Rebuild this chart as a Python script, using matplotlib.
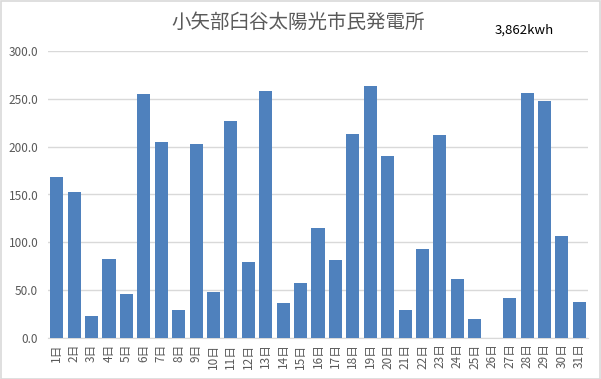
import matplotlib
matplotlib.use("Agg")
import matplotlib.pyplot as plt
import numpy as np

plt.rcParams['font.family'] = ['Noto Sans CJK JP', 'DejaVu Sans']

# daily generation (kWh)
days = [f"{d}日" for d in range(1, 32)]
kwh = [168, 153, 23, 82.5, 46, 255, 205, 29, 203, 48,
       227, 79.5, 258, 36.6, 57.5, 115, 81.5, 213, 263, 190,
       29, 93, 212, 62, 20, 0, 42, 256, 248, 106.5, 37.6]
yticks = [0, 50, 100, 150, 200, 250, 300]
title = "小矢部臼谷太陽光市民発電所"
total_label = "3,862kwh"

fig = plt.figure(figsize=(6.01, 3.79), dpi=100)
ax = fig.add_axes([48 / 601, 1 - 338 / 379, 540 / 601, 287 / 379])

x = np.arange(len(days))
ax.bar(x, kwh, width=0.75, color="#4f81bd", zorder=3)

ax.set_xlim(-0.5, len(days) - 0.5)
ax.set_ylim(0, 300)
ax.set_yticks(yticks)
ax.set_yticklabels([f"{v:.1f}" for v in yticks], fontsize=8.5, color="#595959")
ax.set_xticks(x)
ax.set_xticklabels(days, rotation=90, fontsize=8.5, color="#595959")
ax.tick_params(axis="both", length=0)
ax.tick_params(axis="y", pad=7)
ax.tick_params(axis="x", pad=4)
ax.grid(axis="y", color="#d9d9d9", linewidth=1, zorder=0)
for s in ["left", "right", "top"]:
    ax.spines[s].set_visible(False)
ax.spines["bottom"].set_color("#d9d9d9")

fig.text(298 / 601, 1 - 22 / 379, title, ha="center", va="center",
         fontsize=14, color="#595959")
fig.text(495 / 601, 1 - 30 / 379, total_label, ha="left", va="center",
         fontsize=9.5, color="black")

# thin outer frame
fig.patches.append(plt.Rectangle((0.001, 0.001), 0.997, 0.997, transform=fig.transFigure,
                                 fill=False, edgecolor="#d9d9d9", linewidth=1.2))

fig.savefig("out.png", dpi=100)
